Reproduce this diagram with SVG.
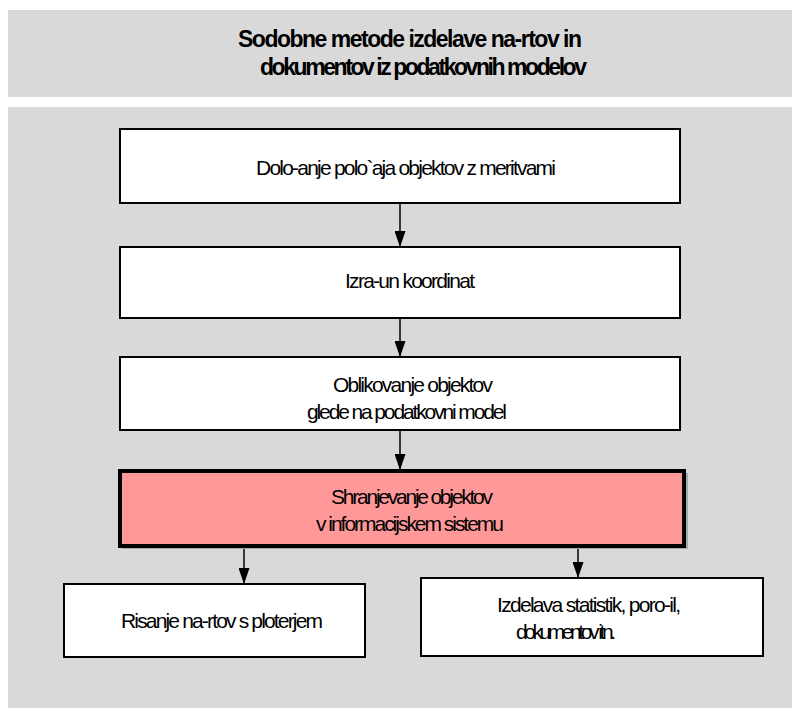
<svg xmlns="http://www.w3.org/2000/svg" width="792" height="708" viewBox="0 0 792 708">
  <style>
    .panel { fill: #d9d9d9; }
    .box { fill: #ffffff; stroke: #000000; stroke-width: 2; }
    .shadow { fill: #a8a8a8; }
    .hl { fill: #ff9999; stroke: #000000; stroke-width: 4; }
    .title { font-family: "Liberation Sans", Arial, sans-serif; font-size: 23px; font-weight: bold; fill: #000; }
    .lbl { font-family: "Liberation Sans", Arial, sans-serif; font-size: 21px; fill: #000; }
    .conn { stroke: #000000; stroke-width: 1.5; fill: none; marker-end: url(#arrow); }
  </style>
  <defs>
    <!-- filled triangular arrowhead, tip at the line end -->
    <marker id="arrow" markerWidth="16" markerHeight="11" refX="15" refY="5.5" orient="auto" markerUnits="userSpaceOnUse" viewBox="0 0 16 11">
      <path d="M0,0 L16,5.5 L0,11 Z" fill="#000"/>
    </marker>
  </defs>

  <!-- background panels -->
  <rect class="panel" x="8" y="10" width="784" height="87"/>
  <rect class="panel" x="8" y="107" width="784" height="601"/>

  <!-- title -->
  <g id="title">
    <text class="title" x="238" y="47" textLength="344" lengthAdjust="spacing">Sodobne metode izdelave na-rtov in</text>
    <text class="title" x="260" y="75" textLength="327" lengthAdjust="spacing">dokumentov iz podatkovnih modelov</text>
  </g>

  <!-- connectors -->
  <g id="connectors">
    <line class="conn" x1="400" y1="203" x2="400" y2="246"/>
    <line class="conn" x1="400" y1="318" x2="400" y2="356"/>
    <line class="conn" x1="400" y1="430" x2="400" y2="469"/>
    <line class="conn" x1="244" y1="548" x2="244" y2="583"/>
    <line class="conn" x1="578" y1="548" x2="578" y2="577"/>
  </g>

  <g id="n1">
    <rect class="shadow" x="121" y="130" width="560" height="74"/>
    <rect class="box" x="120" y="129" width="560" height="74"/>
    <text class="lbl" x="256" y="175" textLength="300" lengthAdjust="spacing">Dolo-anje polo`aja objektov z meritvami</text>
  </g>

  <g id="n2">
    <rect class="shadow" x="121" y="248" width="560" height="71"/>
    <rect class="box" x="120" y="247" width="560" height="71"/>
    <text class="lbl" x="345" y="288" textLength="130" lengthAdjust="spacing">Izra-un koordinat</text>
  </g>

  <g id="n3">
    <rect class="shadow" x="121" y="358" width="560" height="73"/>
    <rect class="box" x="120" y="357" width="560" height="73"/>
    <text class="lbl" x="333" y="392" textLength="160" lengthAdjust="spacing">Oblikovanje objektov</text>
    <text class="lbl" x="307" y="419" textLength="200" lengthAdjust="spacing">glede na podatkovni model</text>
  </g>

  <g id="n4">
    <rect class="shadow" x="122" y="473" width="566" height="76"/>
    <rect class="hl" x="120" y="471" width="564" height="75"/>
    <text class="lbl" x="331" y="504" textLength="162" lengthAdjust="spacing">Shranjevanje objektov</text>
    <text class="lbl" x="316" y="531" textLength="188" lengthAdjust="spacing">v informacijskem sistemu</text>
  </g>

  <g id="n5">
    <rect class="shadow" x="65" y="585" width="301" height="73"/>
    <rect class="box" x="64" y="584" width="301" height="73"/>
    <text class="lbl" x="121" y="628" textLength="202" lengthAdjust="spacing">Risanje na-rtov s ploterjem</text>
  </g>

  <g id="n6">
    <rect class="shadow" x="422" y="579" width="342" height="78"/>
    <rect class="box" x="421" y="578" width="342" height="78"/>
    <text class="lbl" x="497" y="612" textLength="184" lengthAdjust="spacing">Izdelava statistik, poro-il,</text>
    <text class="lbl" x="516" y="639" textLength="100" lengthAdjust="spacing">dokumentov itn.</text>
  </g>
</svg>
